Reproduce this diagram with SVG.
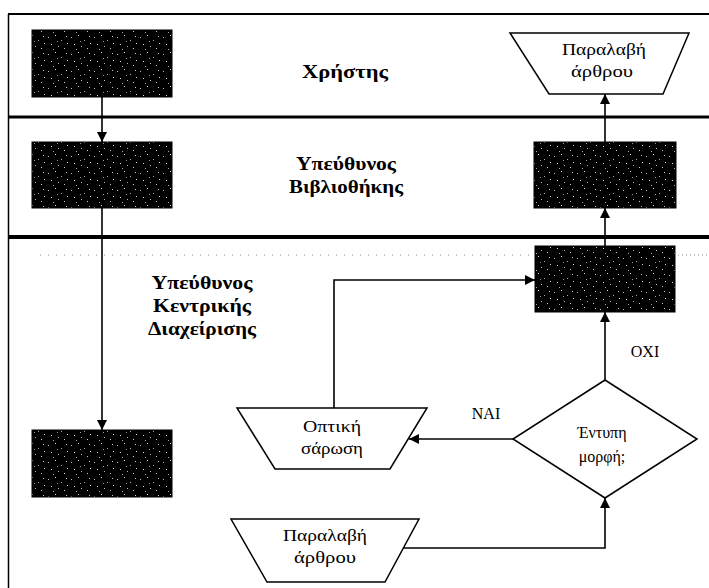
<svg xmlns="http://www.w3.org/2000/svg" width="709" height="588" viewBox="0 0 709 588">
<defs>
<pattern id="noise" width="23" height="17" patternUnits="userSpaceOnUse">
<rect width="23" height="17" fill="#000"/>
<rect x="2" y="3" width="1" height="1" fill="#bbb"/>
<rect x="9" y="1" width="1" height="1" fill="#ddd"/>
<rect x="15" y="6" width="1" height="1" fill="#aaa"/>
<rect x="20" y="2" width="1" height="1" fill="#ccc"/>
<rect x="5" y="10" width="1" height="1" fill="#ddd"/>
<rect x="12" y="12" width="1" height="1" fill="#bbb"/>
<rect x="18" y="14" width="1" height="1" fill="#ccc"/>
<rect x="7" y="15" width="1" height="1" fill="#aaa"/>
<rect x="21" y="9" width="1" height="1" fill="#ddd"/>
<rect x="11" y="7" width="1" height="1" fill="#999"/>
</pattern>
<marker id="arr" viewBox="0 0 10 10" refX="10" refY="5" markerWidth="12" markerHeight="10" markerUnits="userSpaceOnUse" orient="auto">
<path d="M0,0 L10,5 L0,10 z" fill="#000"/>
</marker>
</defs>
<style>
.lane{font-family:'Liberation Serif','DejaVu Serif',serif;font-weight:bold;font-size:19px;text-anchor:middle;fill:#000}
.lbl{font-family:'Liberation Serif','DejaVu Serif',serif;font-size:16px;text-anchor:middle;fill:#000}
.box{fill:url(#noise);stroke:#000;stroke-width:1}
.shape{fill:#fff;stroke:#000;stroke-width:1.5}
.conn{fill:none;stroke:#000;stroke-width:1.6}
.sep{stroke:#000}
</style>
<rect width="709" height="588" fill="#fff"/>
<g id="frame">
<line class="sep" x1="8" y1="14" x2="709" y2="14" stroke-width="2"/>
<line class="sep" x1="8" y1="117" x2="709" y2="117" stroke-width="3"/>
<line class="sep" x1="8" y1="237" x2="709" y2="237" stroke-width="4"/>
<line class="sep" x1="8.5" y1="14" x2="8.5" y2="588" stroke-width="1.5"/>
<line x1="40" y1="255" x2="530" y2="255" stroke="#888" stroke-width="1" stroke-dasharray="1 7"/>
<line x1="678" y1="255" x2="709" y2="255" stroke="#888" stroke-width="1" stroke-dasharray="1 3"/>
</g>
<g id="lane-labels">
<text class="lane" x="345" y="78" textLength="86" lengthAdjust="spacingAndGlyphs">Χρήστης</text>
<text class="lane" x="346" y="170" textLength="100" lengthAdjust="spacingAndGlyphs">Υπεύθυνος</text>
<text class="lane" x="346" y="193" textLength="114" lengthAdjust="spacingAndGlyphs">Βιβλιοθήκης</text>
<text class="lane" x="202" y="289" textLength="101" lengthAdjust="spacingAndGlyphs">Υπεύθυνος</text>
<text class="lane" x="202" y="312" textLength="98" lengthAdjust="spacingAndGlyphs">Κεντρικής</text>
<text class="lane" x="202" y="335" textLength="108" lengthAdjust="spacingAndGlyphs">Διαχείρισης</text>
</g>
<g id="connectors">
<line class="conn" x1="102" y1="97" x2="102" y2="142" marker-end="url(#arr)"/>
<line class="conn" x1="102" y1="208" x2="102" y2="430" marker-end="url(#arr)"/>
<line class="conn" x1="605" y1="246" x2="605" y2="208" marker-end="url(#arr)"/>
<line class="conn" x1="605" y1="142" x2="605" y2="94" marker-end="url(#arr)"/>
<line class="conn" x1="605" y1="380" x2="605" y2="312" marker-end="url(#arr)"/>
<line class="conn" x1="513" y1="439" x2="409" y2="439" marker-end="url(#arr)"/>
<polyline class="conn" points="334,408 334,280 535,280" marker-end="url(#arr)"/>
<polyline class="conn" points="398,548 605,548 605,498" marker-end="url(#arr)"/>
<text class="lbl" x="486" y="419">NAI</text>
<text class="lbl" x="645" y="357">OXI</text>
</g>
<g id="user-box">
<rect class="box" x="32" y="30" width="140" height="67"/>
</g>
<g id="lib-box-left">
<rect class="box" x="32" y="142" width="140" height="66"/>
</g>
<g id="central-box-left">
<rect class="box" x="32" y="430" width="140" height="67"/>
</g>
<g id="lib-box-right">
<rect class="box" x="534" y="142" width="142" height="66"/>
</g>
<g id="central-box-right">
<rect class="box" x="535" y="246" width="140" height="66"/>
</g>
<g id="receive-top">
<polygon class="shape" points="510,33 689,33 663,94 549,94"/>
<text class="lbl" x="604" y="55" textLength="84" lengthAdjust="spacingAndGlyphs">Παραλαβή</text>
<text class="lbl" x="602" y="77" textLength="62" lengthAdjust="spacingAndGlyphs">άρθρου</text>
</g>
<g id="scan">
<polygon class="shape" points="237,408 427,408 390,469 275,469"/>
<text class="lbl" x="332" y="432" textLength="58" lengthAdjust="spacingAndGlyphs">Οπτική</text>
<text class="lbl" x="332" y="454" textLength="62" lengthAdjust="spacingAndGlyphs">σάρωση</text>
</g>
<g id="decision">
<polygon class="shape" points="605,380 697,439 605,498 513,439"/>
<text class="lbl" x="602" y="438">Έντυπη</text>
<text class="lbl" x="602" y="462">μορφή;</text>
</g>
<g id="receive-bottom">
<polygon class="shape" points="231,519 419,519 385,582 267,582"/>
<text class="lbl" x="325" y="541" textLength="84" lengthAdjust="spacingAndGlyphs">Παραλαβή</text>
<text class="lbl" x="325" y="563" textLength="62" lengthAdjust="spacingAndGlyphs">άρθρου</text>
</g>
</svg>
